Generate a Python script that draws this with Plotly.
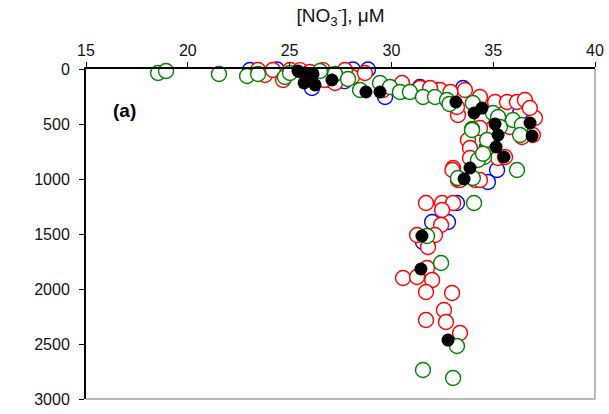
import plotly.graph_objects as go

# Nitrate (uM) vs depth (m)
blue_no3 = [23.05, 24.38, 26.1, 28.11, 28.85, 29.69, 31.4, 33.52, 36.32, 34.99, 34.7, 35.19, 34.74,
            33.22, 32.0, 32.78, 31.55, 27.0, 27.7, 30.6, 32.3]
blue_depth = [9, 5, 173, 5, 5, 255, 164, 173, 400, 509, 709, 918, 1027,
              1218, 1391, 1391, 1573, 100, 110, 200, 190]

red_no3 = [23.45, 23.79, 24.18, 24.68, 25.02, 25.51, 26.64, 27.23, 28.06, 27.72, 29.59, 30.52, 31.4,
           32.39, 33.61, 33.27, 34.35, 35.09, 35.68, 36.17, 37.05, 36.95, 33.76, 33.86, 33.03, 33.27,
           34.11, 35.24, 34.94, 36.41, 35.82, 34.45, 33.22, 34.99, 34.35, 35.58, 33.86, 33.37, 34.35,
           33.0, 31.7, 32.49, 33.03, 32.49, 32.44, 31.26, 32.14, 31.8, 31.75, 30.57, 31.26, 32.0,
           31.7, 32.98, 32.58, 31.7, 32.68, 33.37, 26.0, 26.7, 28.7, 31.9, 32.9, 36.56, 36.8]
red_depth = [9, 55, 9, 100, 9, 10, 10, 127, 73, 9, 191, 127, 173,
             191, 191, 418, 255, 300, 300, 300, 445, 600, 645, 718, 900, 1009,
             1009, 809, 645, 618, 527, 464, 345, 536, 536, 800, 809, 1009, 1009,
             918, 1218, 1218, 1218, 1282, 1418, 1509, 1509, 1618, 1809, 1900, 1891, 1918,
             2027, 2036, 2191, 2282, 2300, 2400, 27, 100, 36, 173, 209, 282, 355]

green_no3 = [18.54, 18.93, 21.53, 22.91, 23.45, 24.77, 25.02, 26.49, 27.23, 27.87, 28.46, 29.44, 29.93,
             30.42, 30.91, 31.55, 32.14, 32.73, 34.0, 33.96, 34.99, 35.24, 35.97, 36.41, 36.32, 35.33,
             34.74, 34.55, 34.25, 33.27, 34.0, 36.17, 34.06, 31.75, 32.44, 33.22, 31.55, 33.03,
             32.85, 33.96, 34.7, 34.5]
green_depth = [36, 18, 45, 64, 45, 73, 36, 18, 45, 91, 191, 127, 164,
               209, 209, 255, 255, 282, 309, 545, 400, 436, 464, 509, 600, 527,
               709, 800, 827, 991, 991, 918, 1218, 1518, 1764, 2518, 2736, 2809,
               318, 555, 645, 770]

black_no3 = [25.41, 25.76, 26.15, 25.71, 26.25, 27.08, 28.75, 29.44, 33.17, 34.06, 34.45, 35.09, 35.24,
             35.14, 35.53, 36.81, 36.91, 33.86, 33.57, 31.5, 31.45, 32.78]
black_depth = [18, 36, 45, 127, 145, 100, 209, 209, 300, 400, 355, 500, 600,
               709, 800, 491, 609, 900, 1000, 1518, 1818, 2464]

x_ticks = [15, 20, 25, 30, 35, 40]
y_ticks = [0, 500, 1000, 1500, 2000, 2500, 3000]

fig = go.Figure()

def open_series(x, y, color):
    return go.Scatter(x=x, y=y, mode="markers", showlegend=False, cliponaxis=False,
                      marker=dict(symbol="circle", size=15, color="white",
                                  line=dict(color=color, width=1.4)))

fig.add_trace(open_series(blue_no3, blue_depth, "#0000ff"))
fig.add_trace(open_series(red_no3, red_depth, "#ff0000"))
fig.add_trace(open_series(green_no3, green_depth, "#008000"))
fig.add_trace(go.Scatter(x=black_no3, y=black_depth, mode="markers", showlegend=False, cliponaxis=False,
                         marker=dict(symbol="circle", size=13, color="black",
                                     line=dict(color="black", width=0))))

fig.update_layout(
    width=609, height=414,
    margin=dict(l=86, r=14, t=69, b=15),
    paper_bgcolor="white", plot_bgcolor="white",
    font=dict(family="Liberation Sans, Arial", size=16, color="#111111"),
    xaxis=dict(range=[15, 40], side="top", tickvals=x_ticks, ticktext=[str(v) for v in x_ticks],
               automargin=False, tickfont=dict(size=16),
               showgrid=False, zeroline=False, showline=True, linecolor="black", linewidth=2,
               ticks="outside", ticklen=5, tickcolor="black", tickwidth=1,
               title=dict(text="[NO<sub>3</sub><sup>-</sup>], μM", standoff=14,
                          font=dict(size=19))),
    yaxis=dict(range=[3000, 0], tickvals=y_ticks, ticktext=[str(v) for v in y_ticks],
               automargin=False, tickfont=dict(size=16), ticklabelstandoff=6,
               showgrid=False, zeroline=False, showline=True, linecolor="black", linewidth=2,
               ticks="outside", ticklen=5, tickcolor="black", tickwidth=1),
    shapes=[
        dict(type="line", xref="paper", yref="paper", x0=1, x1=1, y0=0, y1=1,
             line=dict(color="#a0a0a0", width=1.5)),
        dict(type="line", xref="paper", yref="paper", x0=0, x1=1, y0=0, y1=0,
             line=dict(color="#a0a0a0", width=1.5)),
    ],
    annotations=[
        dict(text="<b>(a)</b>", x=16.9, y=380, xref="x", yref="y", showarrow=False,
             font=dict(size=19, color="black"), xanchor="center", yanchor="middle"),
    ],
)

fig.write_html("out.html")
